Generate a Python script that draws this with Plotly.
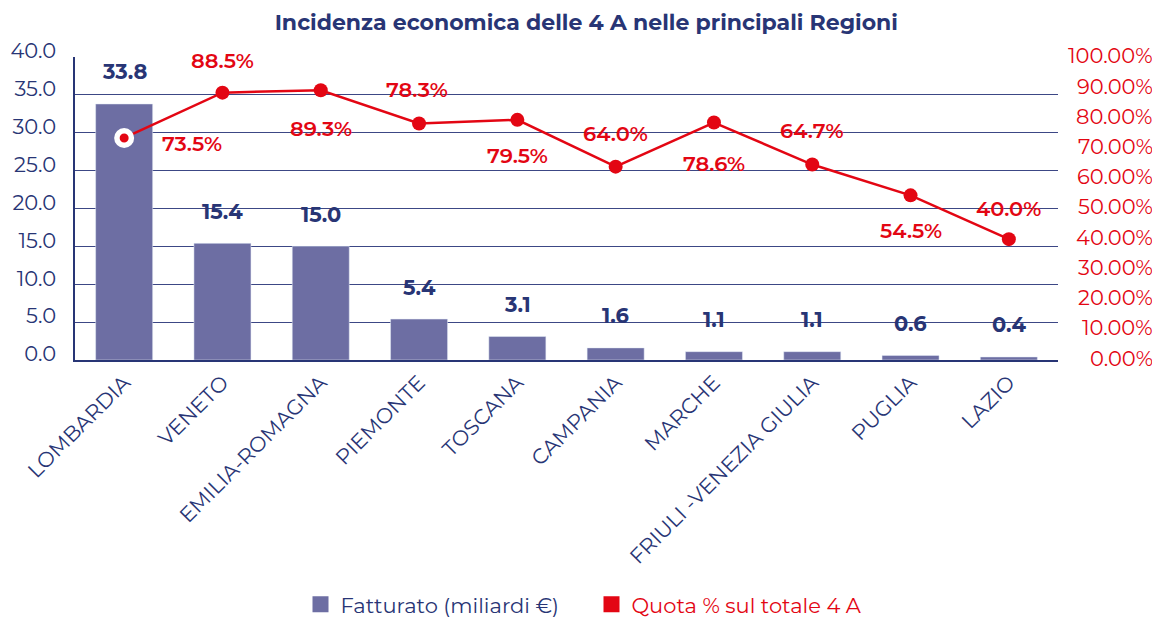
import plotly.graph_objects as go

regions = ["LOMBARDIA", "VENETO", "EMILIA-ROMAGNA", "PIEMONTE", "TOSCANA",
           "CAMPANIA", "MARCHE", "FRIULI -VENEZIA GIULIA", "PUGLIA", "LAZIO"]
fatturato = [33.8, 15.4, 15.0, 5.4, 3.1, 1.6, 1.1, 1.1, 0.6, 0.4]
quota = [73.5, 88.5, 89.3, 78.3, 79.5, 64.0, 78.6, 64.7, 54.5, 40.0]
left_ticks = [0, 5, 10, 15, 20, 25, 30, 35, 40]
right_ticks = [0, 10, 20, 30, 40, 50, 60, 70, 80, 90, 100]

NAVY = "#283575"
GRID = "#3C4785"
BAR = "#6D6EA3"
RED = "#E30613"
FONT = "Montserrat, Open Sans, sans-serif"

fig = go.Figure()
fig.add_trace(go.Bar(x=regions, y=fatturato, marker_color=BAR, showlegend=False,
                     yaxis="y"))

fig.add_trace(go.Scatter(x=regions, y=quota, yaxis="y2", mode="lines+markers",
                         line=dict(color=RED, width=2.5),
                         marker=dict(color=RED, size=14, opacity=1),
                         opacity=1, showlegend=False))
# highlighted first point (white ring)
fig.add_trace(go.Scatter(x=regions[:1], y=quota[:1], yaxis="y2", mode="markers",
                         marker=dict(color=RED, size=14.5, opacity=1,
                                     line=dict(color="white", width=5.5)),
                         showlegend=False))

# legend proxies
fig.add_trace(go.Scatter(x=[None], y=[None], mode="markers",
                         name="Fatturato (miliardi €)" + "&nbsp;" * 5,
                         marker=dict(symbol="square", color=BAR, size=20)))
fig.add_trace(go.Scatter(x=[None], y=[None], mode="markers",
                         name=f"<span style='color:{RED}'>Quota % sul totale 4 A</span>",
                         marker=dict(symbol="square", color=RED, size=20)))

annotations = []
for r, v in zip(regions, fatturato):
    annotations.append(dict(x=r, y=v, xref="x", yref="y", text=f"<b>{v:.1f}</b>",
                            showarrow=False, yshift=32,
                            font=dict(color=NAVY, size=21, family=FONT)))
# label placement style for percentage labels: (xshift, yshift)
pct_offsets = [(68, -6), (0, 32), (0, -38), (-2, 34), (0, -36),
               (0, 33), (0, -41), (0, 34), (0, -35), (0, 31)]
for r, q, (dx, dy) in zip(regions, quota, pct_offsets):
    annotations.append(dict(x=r, y=q, xref="x", yref="y2", text=f"{q:.1f}%",
                            showarrow=False, xshift=dx, yshift=dy,
                            font=dict(color=RED, size=21, family=FONT, weight=600)))
# right-aligned secondary axis tick labels
for t in right_ticks:
    annotations.append(dict(x=1, y=t, xref="paper", yref="y2", text=f"{t:.2f}%",
                            showarrow=False, xanchor="right", yanchor="middle",
                            xshift=97, yshift=2,
                            font=dict(color=RED, size=21, family=FONT)))

# page body has an 8px default margin, so the figure is sized to fit the window
fig.update_layout(
    width=1152, height=612,
    margin=dict(l=67, r=102, t=49, b=260, autoexpand=False),
    paper_bgcolor="white", plot_bgcolor="white",
    font=dict(family=FONT, color=NAVY),
    title=dict(text="<b>Incidenza economica delle 4 A nelle principali Regioni</b>",
               x=0.502, xanchor="center", y=0.977, yanchor="middle",
               font=dict(size=22, color=NAVY, family=FONT)),
    bargap=0.42,
    xaxis=dict(tickangle=-45, tickfont=dict(size=21, color=NAVY), showgrid=False,
               range=[-0.5, len(regions) - 0.5],
               showline=True, linecolor=NAVY, linewidth=2, ticks="", automargin=False),
    yaxis=dict(range=[0, 40], tickvals=left_ticks, tickformat=".1f",
               tickfont=dict(size=21, color=NAVY), showgrid=True, gridcolor=GRID,
               gridwidth=1, showline=True, linecolor=NAVY, linewidth=1.5,
               zeroline=False, ticks="", ticklabelshift=-6, ticklabelstandoff=13,
               automargin=False),
    yaxis2=dict(range=[0, 100.3], tickvals=right_ticks, showticklabels=False,
                overlaying="y", side="right", automargin=False,
                showgrid=False, zeroline=False, showline=False, ticks=""),
    legend=dict(orientation="h", x=0.5, xanchor="center", xref="container",
                y=0.025, yanchor="middle", yref="container",
                font=dict(size=21, color=NAVY), itemwidth=30),
    annotations=annotations,
)

fig.write_html("out.html")
